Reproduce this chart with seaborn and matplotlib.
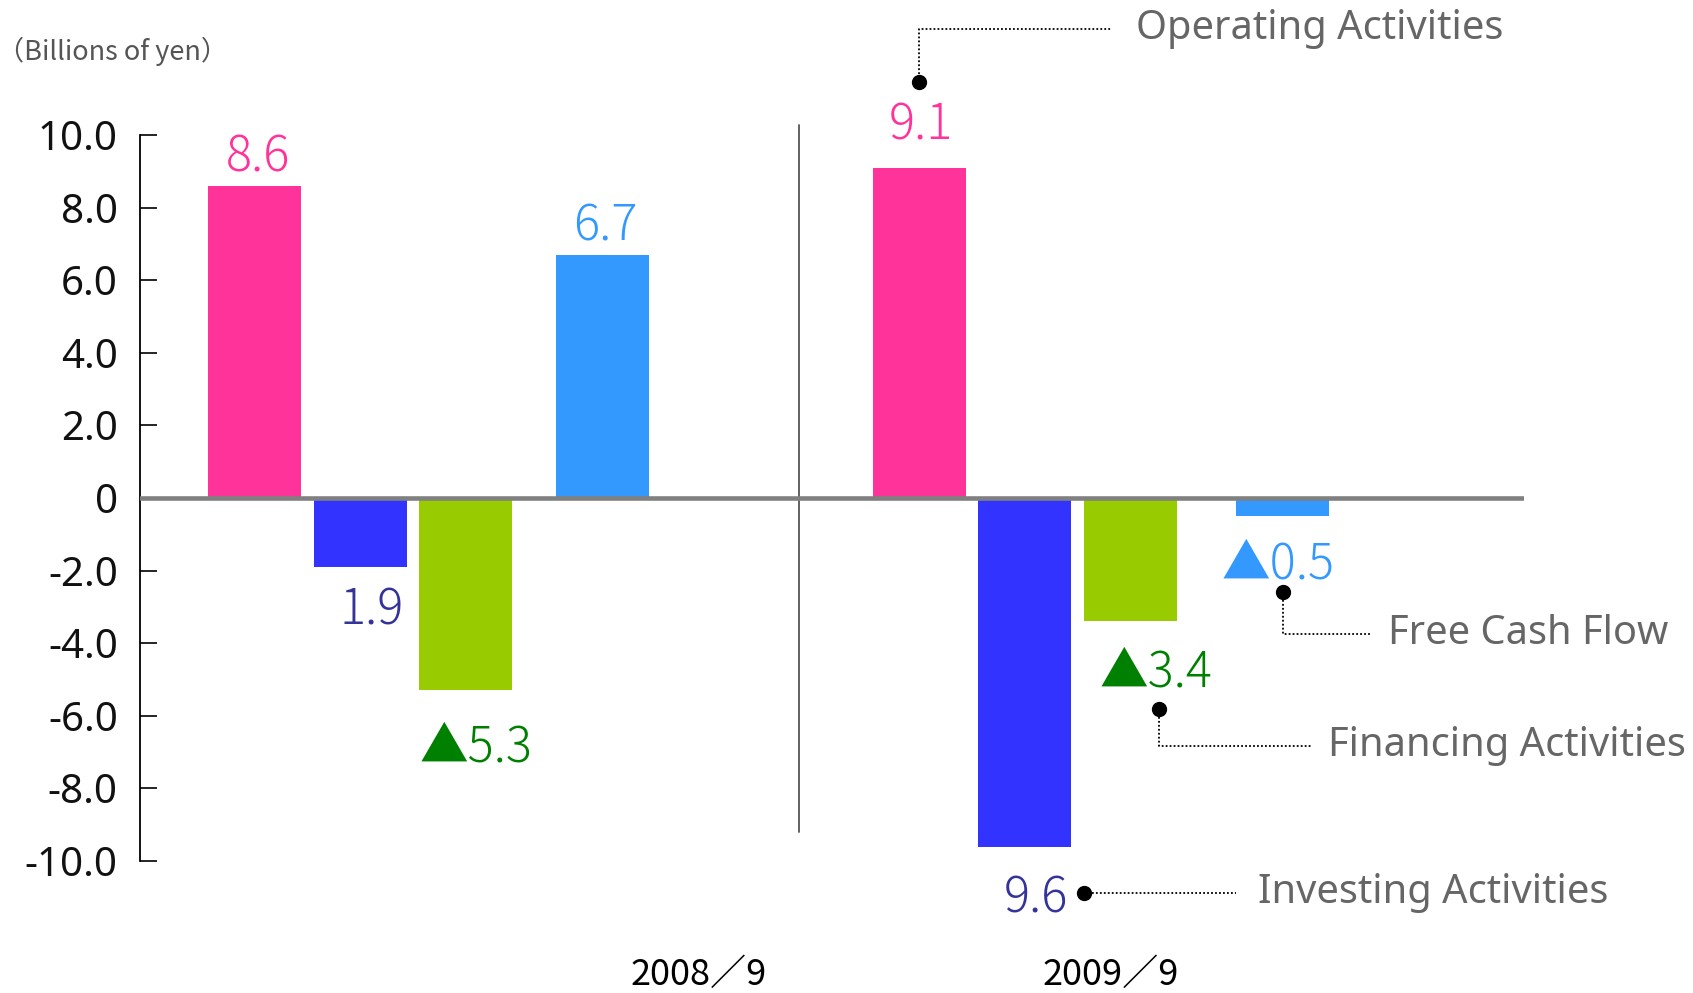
import matplotlib
matplotlib.use("Agg")
import matplotlib.pyplot as plt
import seaborn as sns
import pandas as pd
import numpy as np

# ---- data ----
periods = ["2008／9", "2009／9"]
series = ["Operating Activities", "Investing Activities", "Financing Activities", "Free Cash Flow"]
operating = [8.6, 9.1]
investing = [-1.9, -9.6]
financing = [-5.3, -3.4]
free_cash_flow = [6.7, -0.5]
value_labels = [["8.6", "1.9", "▲5.3", "6.7"],
                ["9.1", "9.6", "▲3.4", "▲0.5"]]
yticks = [10, 8, 6, 4, 2, 0, -2, -4, -6, -8, -10]
ytick_labels = ["10.0", "8.0", "6.0", "4.0", "2.0", "0", "-2.0", "-4.0", "-6.0", "-8.0", "-10.0"]
unit_label = "（Billions of yen）"

# ---- style ----
bar_colors = ["#FF3399", "#3333FF", "#99CC00", "#3399FF"]
label_colors = ["#FF3399", "#333399", "#008000", "#3399FF"]
group_start = [0.0, 6.283]
slot_offsets = [[0, 1, 2, 3.287], [0, 1, 2, 3.432]]
label_offsets = [[(4, 28), (12, -44), (10, -57), (3, 28)],
                 [(2, 42), (11, -52), (25, -51), (-4, -49)]]

sns.set_style("white")
plt.rcParams["font.family"] = ["Noto Sans", "DejaVu Sans"]

values = [operating, investing, financing, free_cash_flow]
rows = []
for gi, p in enumerate(periods):
    for si, s in enumerate(series):
        rows.append({"period": p, "series": s, "value": values[si][gi],
                     "pos": group_start[gi] + slot_offsets[gi][si]})
df = pd.DataFrame(rows)

fig = plt.figure(figsize=(16.93, 9.93), dpi=100)
ax = fig.add_axes([0.0827, 0.1329, 0.8175, 0.7311])

sns.barplot(data=df, x="pos", y="value", hue="series", hue_order=series,
            palette=bar_colors, native_scale=True, dodge=False, width=0.879,
            saturation=1, errorbar=None, legend=False, linewidth=0, ax=ax)

ax.set_xlim(-1.079, 12.0)
ax.set_ylim(-10, 10)
ax.set_xlabel("")
ax.set_ylabel("")
ax.set_xticks([])
ax.set_yticks(yticks)
ax.set_yticklabels(ytick_labels)
for sp in ["top", "right", "bottom"]:
    ax.spines[sp].set_visible(False)
ax.spines["left"].set_color("black")
ax.spines["left"].set_linewidth(1.3)
ax.tick_params(axis="y", direction="in", length=12, width=1.2, color="black",
               labelsize=29, pad=16, labelcolor="#111111", left=True)

# zero line
ax.axhline(0, color="#808080", lw=3.3, zorder=3, xmin=0, xmax=1)
# divider
ax.plot([5.149, 5.149], [10.28, -9.19], color="#555555", lw=1.3, clip_on=False, zorder=1)

# value labels
for _, r in df.iterrows():
    gi = periods.index(r["period"])
    si = series.index(r["series"])
    dx, dy = label_offsets[gi][si]
    ax.annotate(value_labels[gi][si], xy=(r["pos"], r["value"]),
                xytext=(dx, dy), textcoords="offset pixels",
                ha="center", va="center", fontsize=35, fontweight="light",
                color=label_colors[si], annotation_clip=False,
                family=["Noto Sans CJK JP", "DejaVu Sans"])

# callouts (dot, dotted leader, series name)
callouts = [
    # (dot x, dot y, corner y, end x, text x, series)
    (6.283, 11.45, 12.91, 8.107, 8.333, "Operating Activities"),
    (9.724, -2.59, -3.75, 10.556, 10.71, "Free Cash Flow"),
    (8.547, -5.82, -6.84, 10.0, 10.15, "Financing Activities"),
    (7.843, -10.87, -10.87, 9.28, 9.49, "Investing Activities"),
]
for dxp, dyp, cy, ex, tx, name in callouts:
    ax.plot([dxp, dxp, ex], [dyp, cy, cy], color="black", lw=1.3,
            linestyle=(0, (1, 1.2)), clip_on=False, zorder=4)
    ax.plot([dxp], [dyp], marker="o", color="black", markersize=10,
            clip_on=False, zorder=5)
    ax.text(tx, cy, name, ha="left", va="center", fontsize=28.7,
            color="#666666", fontweight="light", clip_on=False)

# period labels
for x, p in zip([4.2, 8.09], periods):
    ax.text(x, -13.15, p, ha="center", va="center", fontsize=26,
            color="black", family=["Noto Sans CJK JP", "DejaVu Sans"], clip_on=False)

fig.text(-3 / 1693, 1 - 51 / 993, unit_label, ha="left", va="center",
         fontsize=19.5, color="#555555", family=["Noto Sans CJK JP", "DejaVu Sans"])

fig.savefig("out.png", dpi=100)
